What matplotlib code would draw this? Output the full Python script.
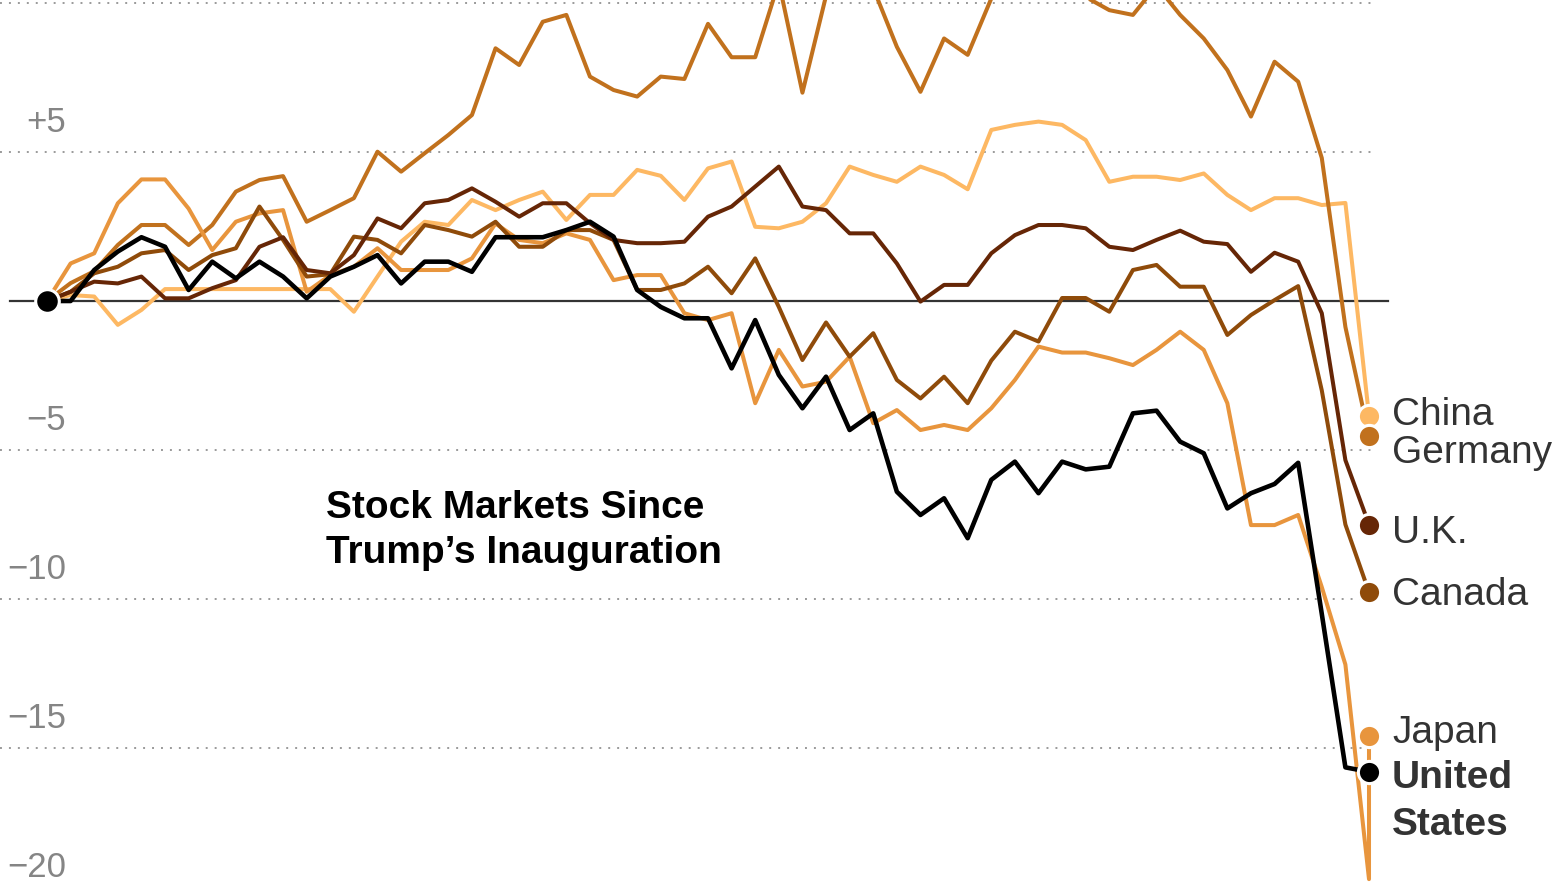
import numpy as np
import matplotlib
matplotlib.use("Agg")
import matplotlib.pyplot as plt
import matplotlib.transforms as mtransforms

# ---------------- data (percent change since Jan 17, 2025; trading days) ----------------
days = np.arange(57)  # Jan 17 ... Apr 7

us = [0, 0.0, 1.04, 1.66, 2.14, 1.82, 0.37, 1.32, 0.76, 1.32,
      0.82, 0.09, 0.82, 1.15, 1.54, 0.59, 1.32, 1.32, 0.98, 2.14,
      2.14, 2.14, 2.38, 2.66, 2.16, 0.37, -0.2, -0.58, -0.58, -2.26,
      -0.64, -2.48, -3.6, -2.54, -4.33, -3.77, -6.4, -7.18, -6.62, -7.96,
      -6.0, -5.39, -6.45, -5.39, -5.65, -5.56, -3.77, -3.68, -4.72, -5.11,
      -6.96, -6.45, -6.14, -5.43, -10.5, -15.65, -15.8]

china = [0, 0.2, 0.15, -0.8, -0.3, 0.4, 0.4, 0.4, 0.4, 0.4,
         0.4, 0.4, 0.4, -0.36, 0.82, 1.99, 2.66, 2.55, 3.39, 3.05,
         3.39, 3.67, 2.72, 3.56, 3.56, 4.4, 4.2, 3.39, 4.45, 4.68,
         2.49, 2.44, 2.66, 3.28, 4.51, 4.23, 4.0, 4.51, 4.23, 3.75,
         5.74, 5.91, 6.02, 5.91, 5.4, 4.0, 4.17, 4.17, 4.06, 4.28,
         3.56, 3.05, 3.45, 3.45, 3.22, 3.29, -3.85]

germany = [0, 0.6, 1.0, 1.88, 2.55, 2.55, 1.88, 2.55, 3.67, 4.06,
           4.19, 2.66, 3.05, 3.45, 5.01, 4.34, 4.96, 5.57, 6.24, 8.48,
           7.92, 9.37, 9.6, 7.53, 7.08, 6.86, 7.53, 7.45, 9.3, 8.18,
           8.18, 10.7, 6.99, 10.24, 11.8, 10.5, 8.53, 7.02, 8.81, 8.26,
           10.15, 10.9, 11.8, 11.4, 10.2, 9.76, 9.6, 10.58, 9.6, 8.81,
           7.75, 6.19, 8.03, 7.36, 4.8, -0.87, -4.53]

uk = [0, 0.31, 0.65, 0.59, 0.82, 0.09, 0.09, 0.43, 0.7, 1.82,
      2.14, 1.04, 0.93, 1.54, 2.77, 2.44, 3.28, 3.39, 3.78, 3.33,
      2.83, 3.28, 3.28, 2.61, 2.05, 1.94, 1.94, 1.99, 2.83, 3.17,
      3.84, 4.51, 3.17, 3.05, 2.27, 2.27, 1.26, -0.02, 0.54, 0.54,
      1.6, 2.21, 2.55, 2.55, 2.44, 1.82, 1.71, 2.05, 2.36, 1.99,
      1.91, 0.98, 1.62, 1.32, -0.41, -5.34, -7.5]

canada = [0, 0.31, 0.93, 1.15, 1.6, 1.71, 1.04, 1.54, 1.77, 3.17,
          2.05, 0.82, 0.9, 2.16, 2.05, 1.6, 2.55, 2.38, 2.16, 2.66,
          1.82, 1.82, 2.38, 2.38, 2.05, 0.37, 0.37, 0.59, 1.15, 0.26,
          1.43, -0.2, -1.98, -0.72, -1.87, -1.08, -2.65, -3.27, -2.54, -3.43,
          -2.0, -1.03, -1.36, 0.1, 0.1, -0.36, 1.04, 1.21, 0.48, 0.48,
          -1.14, -0.47, 0.03, 0.5, -3.0, -7.5, -9.77]

# Japan has one extra, latest reading shown at the last date
japan = [0, 1.26, 1.6, 3.28, 4.08, 4.08, 3.1, 1.71, 2.66, 2.94,
         3.05, 0.31, 0.87, 1.15, 1.77, 1.04, 1.04, 1.04, 1.43, 2.6,
         2.05, 1.94, 2.27, 2.05, 0.7, 0.87, 0.87, -0.41, -0.64, -0.41,
         -3.43, -1.64, -2.87, -2.71, -1.87, -4.1, -3.66, -4.33, -4.16, -4.33,
         -3.6, -2.65, -1.53, -1.73, -1.73, -1.92, -2.15, -1.64, -1.03, -1.64,
         -3.43, -7.52, -7.52, -7.18, -9.6, -12.2, -19.4, -14.6]
japan_days = np.append(days, days[-1])

names = ["China", "Germany", "U.K.", "Canada", "Japan", "United\nStates"]
grid_values = [10, 5, -5, -10, -15, -20]
tick_values = [5, -5, -10, -15, -20]
tick_labels = ["+5", "\u22125", "\u221210", "\u221215", "\u221220"]
title_lines = ["Stock Markets Since", "Trump\u2019s Inauguration"]

# ---------------- layout / style ----------------
W, H, DPI = 1568, 882, 100
colors = {
    "China": "#FDB863",
    "Germany": "#C1711D",
    "U.K.": "#662606",
    "Canada": "#8F4B0A",
    "Japan": "#E8953D",
    "United\nStates": "#000000",
}
label_baseline = {  # label text baselines (data units)
    "China": -4.16, "Germany": -5.44, "U.K.": -8.12,
    "Canada": -10.2, "Japan": -14.83,
}

fig = plt.figure(figsize=(W / DPI, H / DPI), dpi=DPI)
ax = fig.add_axes([0, 0, 1, 1])
px_per_day = (1369 - 47) / 56.0
px_per_unit = 29.8
ax.set_xlim(-47 / px_per_day, 56 + (W - 1369) / px_per_day)
ax.set_ylim(-(H - 301) / px_per_unit, 301 / px_per_unit)
ax.axis("off")

font = "Liberation Sans"

# gridlines
for g in grid_values:
    ax.axhline(g, xmin=0, xmax=1371 / W, color="#9a9a9a", lw=1.4,
               linestyle=(0, (1, 3.6)), zorder=1)
ax.axhline(0, xmin=10 / W, xmax=1388 / W, color="#333333", lw=1.6, zorder=1.5)

# y tick labels (right aligned, above gridline)
tick_tr = mtransforms.offset_copy(
    mtransforms.blended_transform_factory(ax.transAxes, ax.transData),
    fig=fig, x=0, y=20, units="dots")
for v, s in zip(tick_values, tick_labels):
    ax.text(66 / W, v, s, transform=tick_tr, ha="right", va="baseline",
            fontsize=25, color="#858585", family=font, clip_on=False)

# lines
series = [("China", days, china), ("Germany", days, germany),
          ("Japan", japan_days, japan), ("Canada", days, canada),
          ("U.K.", days, uk), ("United\nStates", days, us)]
for name, xs, ys in series:
    lw = 3.3 if name.startswith("United") else 2.9
    ax.plot(xs, ys, color=colors[name], lw=lw, solid_joinstyle="round",
            solid_capstyle="butt", zorder=3 if name.startswith("United") else 2)

# end dots
for name, xs, ys in series:
    ax.plot(xs[-1], ys[-1], "o", ms=16, mfc=colors[name], mec="white",
            mew=2.2, zorder=4)

# start dot
ax.plot(days[0], us[0], "o", ms=17, mfc="black", mec="white", mew=2.2, zorder=5)

# labels
lab_tr = mtransforms.offset_copy(ax.transData, fig=fig, x=23, y=0, units="dots")
for name in ["China", "Germany", "U.K.", "Canada", "Japan"]:
    ax.text(days[-1], label_baseline[name], name, transform=lab_tr,
            ha="left", va="baseline", fontsize=28, color="#333333",
            family=font)
for i, word in enumerate(names[-1].split("\n")):
    ax.text(days[-1], -16.34 - 1.58 * i, word, transform=lab_tr,
            ha="left", va="baseline", fontsize=28, color="#333333",
            family=font, fontweight="bold")

# title
for i, line in enumerate(title_lines):
    fig.text(326 / W, 1 - (518 + 45 * i) / H, line, ha="left", va="baseline",
             fontsize=28, fontweight="bold", color="black", family=font)

fig.savefig("out.png", dpi=DPI, facecolor="white")
